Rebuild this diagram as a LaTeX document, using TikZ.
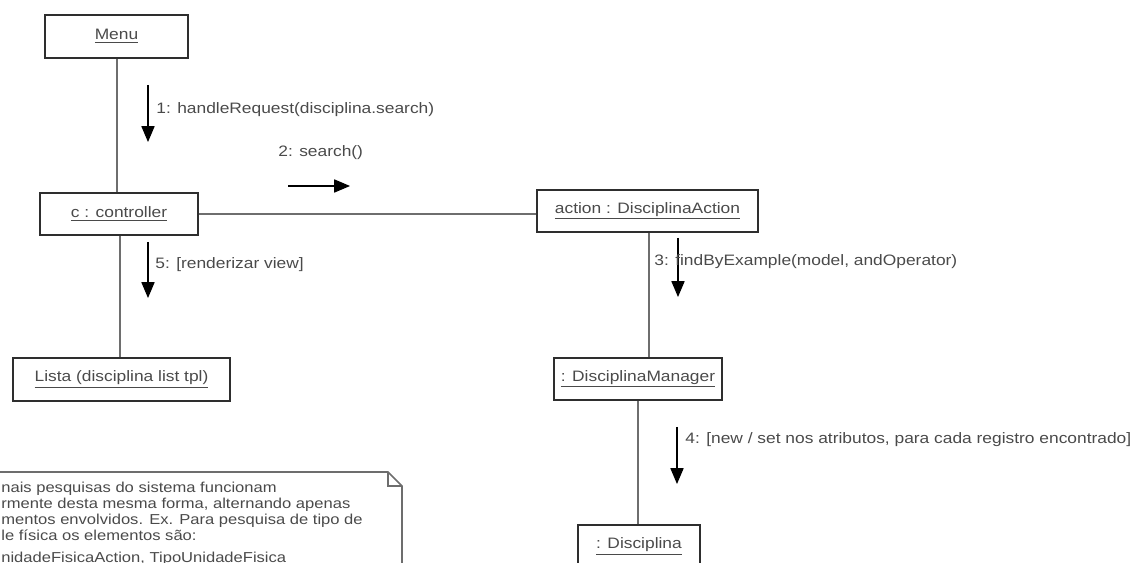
\documentclass[tikz,border=0pt]{standalone}
\usepackage{fontspec}
\setmainfont{Liberation Sans}[FakeStretch=1.15]
\usepackage{tikz}
\usetikzlibrary{arrows.meta}
\definecolor{ink}{HTML}{4A4A4A}
\definecolor{edge}{HTML}{2E2E2E}

\begin{document}
\begin{tikzpicture}[x=0.02cm, y=-0.02cm,
    font=\fontsize{8.6}{10}\selectfont,
    obj/.style={draw=edge, line width=1.1pt, text=ink, inner sep=0pt},
    link/.style={draw=ink!80, line width=0.6pt},
    msg/.style={draw=black, line width=0.6pt, -{Triangle[width=7.5pt,length=9pt]}},
    lbl/.style={anchor=west, text=ink, inner sep=0pt}]
  \useasboundingbox (0,0) rectangle (1139,563);
  \clip (0,0) rectangle (1139,563);
  % Objects
  \node[obj, minimum width=143*0.02cm, minimum height=43*0.02cm] (menu) at (116.5,36.5) {\underline{Menu}};
  \node[obj, minimum width=158*0.02cm, minimum height=42*0.02cm] (ctrl) at (119,214) {\underline{c : controller}};
  \node[obj, minimum width=221*0.02cm, minimum height=42*0.02cm] (action) at (647.5,211) {\underline{action : DisciplinaAction}};
  \node[obj, minimum width=217*0.02cm, minimum height=43*0.02cm] (lista) at (121.5,379.5) {\underline{Lista (disciplina list tpl)}};
  \node[obj, minimum width=168*0.02cm, minimum height=42*0.02cm] (manager) at (638,379) {\underline{: DisciplinaManager}};
  \node[obj, minimum width=122*0.02cm, minimum height=43*0.02cm] (disc) at (639,546.5) {\underline{: Disciplina}};
  % Links
  \draw[link] (menu.south -| 117,0) -- (ctrl.north -| 117,0);
  \draw[link] (ctrl.south -| 120,0) -- (lista.north -| 120,0);
  \draw[link] (ctrl.east) -- (action.west |- ctrl.east);
  \draw[link] (action.south -| 649,0) -- (manager.north -| 649,0);
  \draw[link] (manager.south -| 638,0) -- (disc.north -| 638,0);
  % Messages
  \coordinate (m1a) at (148,85);  \coordinate (m1b) at (148,142);
  \coordinate (m2a) at (288,186); \coordinate (m2b) at (350,186);
  \coordinate (m3a) at (678,238); \coordinate (m3b) at (678,297);
  \coordinate (m5a) at (148,242); \coordinate (m5b) at (148,298);
  \coordinate (m4a) at (677,427); \coordinate (m4b) at (677,484);
  \draw[msg] (m1a) -- (m1b);
  \draw[msg] (m2a) -- (m2b);
  \draw[msg] (m3a) -- (m3b);
  \draw[msg] (m5a) -- (m5b);
  \draw[msg] (m4a) -- (m4b);
  \node[lbl] (l1) at (156,110) {1: handleRequest(disciplina.search)};
  \node[lbl] (l2) at (278,153) {2: search()};
  \node[lbl] (l3) at (654,262) {3: findByExample(model, andOperator)};
  \node[lbl] (l5) at (155,265) {5: [renderizar view]};
  \node[lbl] (l4) at (685,440) {4: [new / set nos atributos, para cada registro encontrado]};
  % Note
  \draw[edge!70, line width=1pt] (-5,472) -- (388,472) -- (402,486) -- (402,580);
  \draw[edge!70, line width=0.8pt] (388,472) -- (388,486) -- (402,486);
  \node[lbl, anchor=north west, align=left, font=\fontsize{8.2}{9.1}\selectfont] (note) at (1,482)
    {nais pesquisas do sistema funcionam\\
     rmente desta mesma forma, alternando apenas\\
     mentos envolvidos. Ex. Para pesquisa de tipo de\\
     le física os elementos são:\\[3pt]
     nidadeFisicaAction, TipoUnidadeFisica};
\end{tikzpicture}
\end{document}
